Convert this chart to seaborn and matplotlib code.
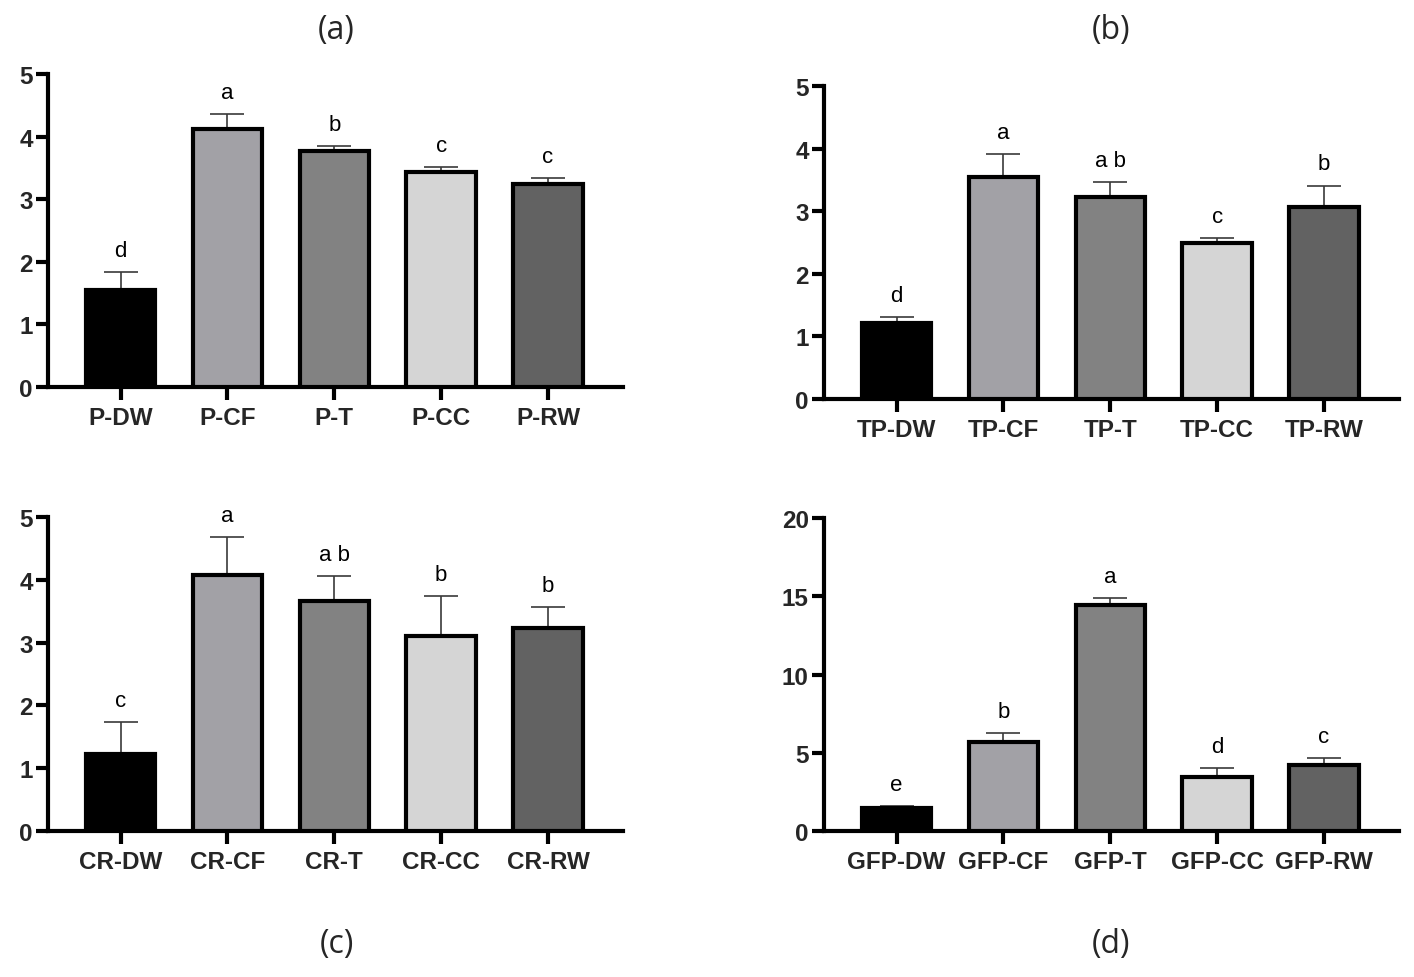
import numpy as np
import pandas as pd
import seaborn as sns
import matplotlib.pyplot as plt

# --- data ---
treatments = ["DW", "CF", "T", "CC", "RW"]
bar_colors = ["#000000", "#a2a1a6", "#828282", "#d5d5d5", "#626262"]

p_mean = [1.55, 4.12, 3.77, 3.44, 3.24]
p_err = [0.29, 0.24, 0.08, 0.07, 0.10]
p_letters = ["d", "a", "b", "c", "c"]

tp_mean = [1.22, 3.55, 3.23, 2.49, 3.07]
tp_err = [0.09, 0.37, 0.23, 0.08, 0.34]
tp_letters = ["d", "a", "a b", "c", "b"]

cr_mean = [1.23, 4.08, 3.66, 3.10, 3.23]
cr_err = [0.50, 0.60, 0.40, 0.64, 0.34]
cr_letters = ["c", "a", "a b", "b", "b"]

gfp_mean = [1.45, 5.70, 14.43, 3.47, 4.21]
gfp_err = [0.15, 0.53, 0.44, 0.55, 0.45]
gfp_letters = ["e", "b", "a", "d", "c"]

y_ticks_small = [0, 1, 2, 3, 4, 5]
y_ticks_gfp = [0, 5, 10, 15, 20]

sns.set_style("ticks")
plt.rcParams['font.family'] = ['Liberation Sans', 'DejaVu Sans']


def panel(ax, prefix, means, errs, letters, yticks):
    labels = [f"{prefix}-{t}" for t in treatments]
    df = pd.DataFrame({"Group": labels, "Value": means})
    sns.barplot(data=df, x="Group", y="Value", hue="Group", palette=bar_colors,
                order=labels, width=0.65, errorbar=None, legend=False,
                edgecolor="black", linewidth=3, saturation=1, ax=ax, zorder=3)

    pos = np.arange(len(labels))
    ax.errorbar(pos, means, yerr=[np.zeros(len(errs)), errs], fmt="none",
                ecolor="#3a3a3a", elinewidth=1.2, capsize=12, capthick=1.2, zorder=2)

    for x, m, e, lab in zip(pos, means, errs, letters):
        ax.annotate(lab, xy=(x, m + e), xytext=(0, 8), textcoords="offset points",
                    ha="center", va="bottom", fontsize=16, color="black")

    ax.set_xlim(-0.68, 4.7)
    ax.set_ylim(yticks[0], yticks[-1])
    ax.set_yticks(yticks)
    ax.set_xlabel("")
    ax.set_ylabel("")
    sns.despine(ax=ax)
    for s in ["left", "bottom"]:
        ax.spines[s].set_linewidth(3)
        ax.spines[s].set_color("black")
    ax.tick_params(axis="both", direction="out", length=9, width=3, color="black")
    ax.tick_params(axis="x", pad=5)
    ax.tick_params(axis="y", pad=2)
    for t in ax.get_xticklabels() + ax.get_yticklabels():
        t.set_fontsize(17.5)
        t.set_fontweight("bold")


fig = plt.figure(figsize=(14.14, 9.78), dpi=100)
ax_a = fig.add_axes([0.0339, 0.6033, 0.4066, 0.320])
ax_b = fig.add_axes([0.5827, 0.5910, 0.4066, 0.320])
ax_c = fig.add_axes([0.0339, 0.1493, 0.4066, 0.321])
ax_d = fig.add_axes([0.5827, 0.1493, 0.4066, 0.320])

panel(ax_a, "P", p_mean, p_err, p_letters, y_ticks_small)
panel(ax_b, "TP", tp_mean, tp_err, tp_letters, y_ticks_small)
panel(ax_c, "CR", cr_mean, cr_err, cr_letters, y_ticks_small)
panel(ax_d, "GFP", gfp_mean, gfp_err, gfp_letters, y_ticks_gfp)

title_font = dict(fontsize=23, family=['Open Sans', 'DejaVu Sans'], ha="center", va="center")
fig.text(0.238, 0.969, "(a)", **title_font)
fig.text(0.786, 0.969, "(b)", **title_font)
fig.text(0.238, 0.034, "(c)", **title_font)
fig.text(0.786, 0.034, "(d)", **title_font)

fig.savefig("out.png", dpi=100)
